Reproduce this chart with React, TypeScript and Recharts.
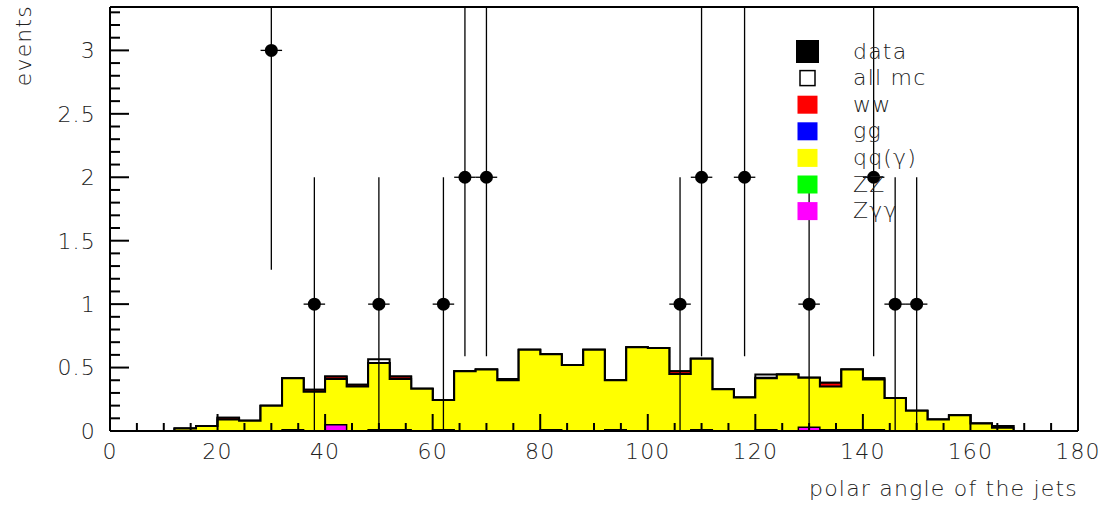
import React from "react"
import { ComposedChart, Area, Scatter, ErrorBar, XAxis, YAxis, ReferenceLine } from "recharts"

// polar angle binned in 4 degree steps, 0..180
const binWidth = 4
const binStarts = Array.from({ length: 45 }, (_, i) => i * binWidth)

// monte carlo contributions per bin (events)
const zgg = [
  0, 0, 0, 0, 0, 0, 0, 0, 0.01, 0,
  0.05, 0, 0.01, 0.01, 0, 0.01, 0, 0, 0, 0,
  0.01, 0, 0, 0.01, 0, 0, 0, 0.01, 0, 0,
  0.01, 0, 0.03, 0.01, 0.01, 0.01, 0, 0, 0, 0,
  0, 0, 0, 0, 0,
]
const qqGamma = [
  0, 0, 0, 0.02, 0.04, 0.09, 0.08, 0.2, 0.405, 0.31,
  0.36, 0.35, 0.525, 0.4, 0.333, 0.235, 0.47, 0.485, 0.4, 0.64,
  0.595, 0.52, 0.64, 0.39, 0.66, 0.655, 0.45, 0.56, 0.33, 0.265,
  0.405, 0.445, 0.39, 0.34, 0.475, 0.395, 0.26, 0.16, 0.09, 0.125,
  0.06, 0.025, 0, 0, 0,
]
const ww = [
  0, 0, 0, 0, 0, 0.015, 0, 0, 0, 0.015,
  0.02, 0.015, 0, 0.02, 0, 0, 0, 0, 0.01, 0,
  0, 0, 0, 0, 0, 0, 0.02, 0, 0, 0,
  0.005, 0, 0, 0.03, 0, 0.01, 0, 0, 0, 0,
  0, 0.015, 0, 0, 0,
]
const allMc = [
  0, 0, 0, 0.02, 0.04, 0.105, 0.08, 0.2, 0.415, 0.325,
  0.43, 0.365, 0.565, 0.43, 0.333, 0.245, 0.47, 0.485, 0.41, 0.64,
  0.605, 0.52, 0.64, 0.4, 0.66, 0.655, 0.47, 0.57, 0.33, 0.265,
  0.445, 0.445, 0.42, 0.38, 0.485, 0.415, 0.26, 0.16, 0.09, 0.125,
  0.06, 0.04, 0, 0, 0,
]

// selected data events
const dataAngle = [30, 38, 50, 62, 66, 70, 106, 110, 118, 130, 142, 146, 150]
const dataEvents = [3, 1, 1, 1, 2, 2, 1, 2, 2, 1, 2, 1, 1]
const dataError = [1.73, 1, 1, 1, 1.41, 1.41, 1, 1.41, 1.41, 1, 1.41, 1, 1]

const yMax = 3.342
const xTicks = Array.from({ length: 37 }, (_, i) => i * 5)
const yTicks = Array.from({ length: 34 }, (_, i) => i / 10)

const legendItems = [
  { label: "data", kind: "data", color: "#000" },
  { label: "all mc", kind: "open", color: "#fff" },
  { label: "ww", kind: "box", color: "#ff0000" },
  { label: "gg", kind: "box", color: "#0000ff" },
  { label: "qq(γ)", kind: "box", color: "#ffff00" },
  { label: "ZZ", kind: "box", color: "#00ff00" },
  { label: "Zγγ", kind: "box", color: "#ff00ff" },
]

const font = {
  fontFamily: "'DejaVu Sans', sans-serif",
  fontSize: 22,
  fontWeight: 200,
  letterSpacing: 1.2,
  fill: "#222",
}

// stacked levels drawn as overlapping step histograms
const histRows = binStarts.map((x, i) => ({
  x,
  mc: allMc[i],
  ww: zgg[i] + qqGamma[i] + ww[i],
  qq: zgg[i] + qqGamma[i],
  zgg: zgg[i],
}))
histRows.push({ ...histRows[histRows.length - 1], x: 180 })

// error bars stop at the frame top
const points = dataAngle.map((x, i) => ({
  x,
  y: dataEvents[i],
  ey: [dataError[i], Math.min(dataError[i], yMax - dataEvents[i])],
  ex: binWidth / 2,
}))

const XTick = ({ x, y, payload }: any) => {
  const v = payload.value
  const major = v % 20 === 0
  return (
    <g>
      {v > 0 && v < 180 && (
        <line x1={x} x2={x} y1={y} y2={y - (major ? 17 : 8)} stroke="#000" strokeWidth={2} />
      )}
      {major && (
        <text x={x} y={y + 28} textAnchor="middle" style={font}>
          {v}
        </text>
      )}
    </g>
  )
}

const YTick = ({ x, y, payload }: any) => {
  const v = payload.value
  const major = Math.round(v * 10) % 5 === 0
  return (
    <g>
      {v > 0 && <line x1={x} x2={x + (major ? 19 : 10)} y1={y} y2={y} stroke="#000" strokeWidth={2} />}
      {major && (
        <text x={x - 14} y={y} dy="0.36em" textAnchor="end" style={font}>
          {Math.round(v * 10) / 10}
        </text>
      )}
    </g>
  )
}

const Dot = (p: any) => <circle cx={p.cx} cy={p.cy} r={6.5} fill="#000" />

const Overlay = () => (
  <svg
    width={1110}
    height={509}
    style={{ position: "absolute", left: 0, top: 0, pointerEvents: "none" }}
  >
    {legendItems.map((item, i) => {
      const cy = 51.5 + i * 26.6
      return (
        <g key={item.label}>
          {item.kind === "data" && <rect x={796} y={cy - 11.5} width={23} height={23} fill="#000" />}
          {item.kind === "open" && (
            <rect x={800} y={cy - 7.5} width={15} height={15} fill="#fff" stroke="#000" strokeWidth={1.5} />
          )}
          {item.kind === "box" && <rect x={797.5} y={cy - 9} width={20} height={18} fill={item.color} />}
          <text x={853} y={cy + 7} style={font}>
            {item.label}
          </text>
        </g>
      )
    })}
    <text x={1078} y={496} textAnchor="end" style={font}>
      polar angle of the jets
    </text>
    <text transform="translate(31,5) rotate(-90)" textAnchor="end" style={font}>
      events
    </text>
  </svg>
)

export default function App() {
  return (
    <div style={{ position: "fixed", left: 0, top: 0, width: 1110, height: 509, background: "#fff" }}>
      <ComposedChart width={1110} height={509} data={histRows} margin={{ top: 7, right: 32, bottom: 0, left: 0 }}>
        <Area dataKey="mc" type="stepAfter" fill="#fff" fillOpacity={1} stroke="#000" strokeWidth={2} isAnimationActive={false} />
        <Area dataKey="ww" type="stepAfter" fill="#ff0000" fillOpacity={1} stroke="#000" strokeWidth={2} isAnimationActive={false} />
        <Area dataKey="qq" type="stepAfter" fill="#ffff00" fillOpacity={1} stroke="#000" strokeWidth={2} isAnimationActive={false} />
        <Area dataKey="zgg" type="stepAfter" fill="#ff00ff" fillOpacity={1} stroke="#000" strokeWidth={1.5} isAnimationActive={false} />
        <XAxis
          dataKey="x"
          type="number"
          domain={[0, 180]}
          ticks={xTicks}
          interval={0}
          tick={<XTick />}
          tickLine={false}
          tickSize={0}
          tickMargin={0}
          height={78}
          axisLine={{ stroke: "#000", strokeWidth: 2 }}
          allowDataOverflow
        />
        <YAxis
          type="number"
          domain={[0, yMax]}
          ticks={yTicks}
          interval={0}
          tick={<YTick />}
          tickLine={false}
          tickSize={0}
          tickMargin={0}
          width={110}
          axisLine={{ stroke: "#000", strokeWidth: 2 }}
          allowDataOverflow
        />
        <ReferenceLine y={yMax} stroke="#000" strokeWidth={2} />
        <ReferenceLine x={180} stroke="#000" strokeWidth={2} />
        <Scatter data={points} dataKey="y" shape={<Dot />} isAnimationActive={false}>
          <ErrorBar dataKey="ey" direction="y" width={0} stroke="#000" strokeWidth={1.3} />
          <ErrorBar dataKey="ex" direction="x" width={0} stroke="#000" strokeWidth={1.3} />
        </Scatter>
      </ComposedChart>
      <Overlay />
    </div>
  )
}
